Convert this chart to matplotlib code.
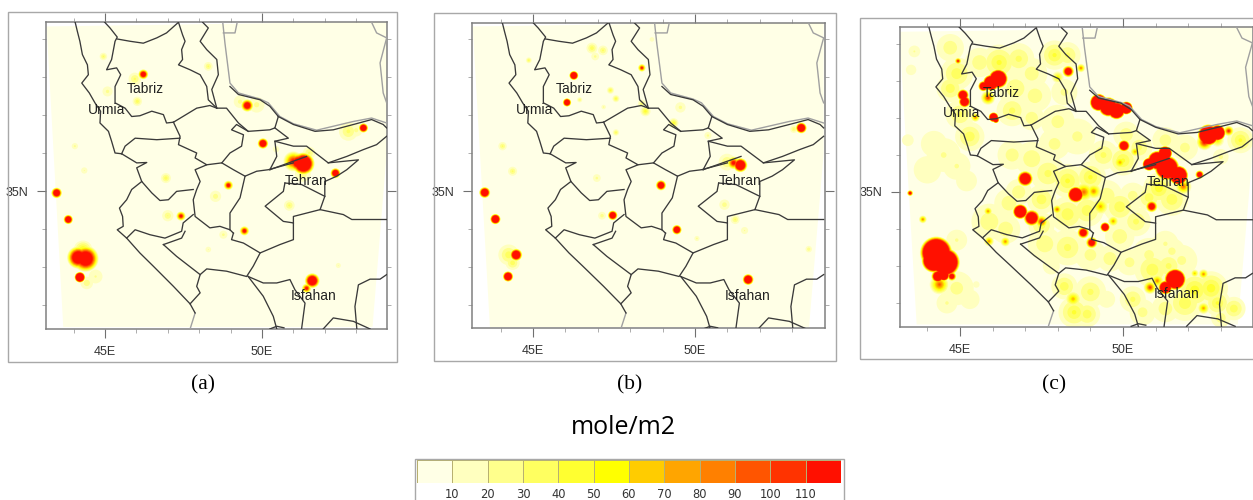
import matplotlib
matplotlib.use("Agg")
import matplotlib.pyplot as plt
from matplotlib.colors import ListedColormap
from matplotlib.patches import Rectangle

W, H = 1253, 500

levels = [10, 20, 30, 40, 50, 60, 70, 80, 90, 100, 110]
band_colors = ["#FFFFE6", "#FFFFBF", "#FFFF8C", "#FFFF60", "#FFFF30", "#FFFF00",
               "#FFCC00", "#FFA500", "#FF8000", "#FF5500", "#FF3300", "#FF1000"]

# lon, lat, peak value, radius in degrees
spots_a = [
    (46.22, 38.07, 190, .16), (45.95, 37.95, 35, .2), (49.53, 37.25, 190, .2), (50.03, 36.25, 240, .17),
    (53.23, 36.66, 260, .15), (52.34, 35.47, 240, .16), (48.93, 35.15, 150, .15), (49.44, 33.95, 150, .15),
    (47.42, 34.34, 140, .15), (43.83, 34.25, 260, .15), (43.46, 34.95, 240, .17), (51.60, 32.64, 240, .24),
    (51.42, 32.44, 140, .15), (44.20, 32.73, 400, .17), (44.38, 33.22, 220, .42), (44.15, 33.25, 220, .36),
    (44.3, 33.45, 60, .3), (51.32, 35.72, 300, .36), (51.0, 35.78, 130, .32), (51.15, 35.75, 200, .3),
    (44.95, 38.54, 35, .12), (48.29, 38.28, 35, .14), (45.08, 37.62, 25, .16), (46.03, 37.36, 40, .15),
    (44.04, 36.18, 25, .1), (44.34, 35.54, 22, .1), (46.94, 35.34, 40, .16), (48.52, 34.86, 28, .18),
    (47.0, 34.35, 32, .18), (50.87, 34.62, 35, .17), (48.77, 33.85, 25, .13), (48.29, 33.46, 22, .09),
    (52.43, 33.04, 22, .08), (52.75, 36.57, 35, .3), (53.0, 36.6, 25, .2), (49.83, 37.27, 25, .25),
    (49.3, 37.35, 25, .2), (44.42, 32.58, 30, .2), (44.7, 32.75, 22, .22), (51.3, 35.45, 30, .25),
    (51.5, 36.0, 35, .2), (50.45, 36.1, 25, .1),
]
spots_b = [
    (46.26, 38.04, 320, .14), (46.05, 37.33, 280, .13), (48.36, 38.24, 130, .12), (53.28, 36.66, 280, .17),
    (51.40, 35.68, 280, .22), (51.19, 35.74, 140, .2), (48.95, 35.15, 240, .16), (49.44, 33.98, 260, .15),
    (47.46, 34.36, 260, .15), (51.64, 32.67, 300, .17), (43.84, 34.26, 320, .16), (43.51, 34.96, 280, .17),
    (44.48, 33.32, 280, .19), (44.23, 32.75, 320, .16),
    (44.87, 38.44, 40, .09), (46.82, 38.76, 40, .17), (47.16, 38.70, 35, .15), (46.92, 38.54, 25, .12),
    (47.39, 37.65, 45, .11), (47.56, 37.43, 45, .11), (46.44, 37.40, 35, .08), (47.18, 37.21, 25, .07),
    (48.47, 37.10, 50, .16), (48.36, 37.30, 35, .12), (49.34, 36.79, 50, .15), (49.55, 37.20, 25, .16),
    (47.56, 36.54, 40, .1), (44.06, 36.18, 35, .13), (44.37, 35.52, 35, .14), (46.97, 35.34, 25, .12),
    (50.91, 34.64, 28, .16), (51.24, 34.25, 35, .14), (51.53, 33.96, 22, .11), (50.06, 33.75, 25, .08),
    (53.51, 33.47, 30, .1), (53.05, 36.63, 35, .12), (50.40, 36.46, 25, .11), (50.99, 35.76, 35, .26),
    (44.25, 33.32, 40, .32), (44.37, 33.11, 40, .22), (47.13, 34.35, 28, .12), (48.67, 38.99, 20, .07),
]
spots_c = [
    # saturated patches
    (46.17, 38.06, 450, .3), (45.95, 37.95, 450, .25), (45.72, 37.86, 300, .16), (45.86, 37.55, 110, .22),
    (45.09, 37.62, 300, .18), (45.14, 37.44, 300, .18), (46.03, 37.02, 400, .15), (46.1, 36.95, 300, .1),
    (45.47, 37.02, 90, .14), (44.94, 38.54, 130, .1), (48.32, 38.26, 220, .18), (48.71, 38.35, 90, .13),
    (48.0, 38.1, 60, .18), (49.25, 37.42, 500, .27), (49.55, 37.3, 500, .3), (49.8, 37.2, 500, .27),
    (50.1, 37.27, 500, .2), (52.62, 36.54, 500, .33), (52.9, 36.6, 500, .25), (52.5, 36.35, 130, .25),
    (53.24, 36.65, 120, .16), (50.03, 36.25, 300, .18), (51.29, 36.05, 500, .22), (51.05, 35.85, 500, .3),
    (50.8, 35.75, 500, .2), (51.35, 35.65, 500, .38), (51.7, 35.45, 500, .3), (51.85, 35.15, 95, .25),
    (52.35, 35.47, 220, .13), (47.0, 35.36, 300, .24), (48.55, 34.93, 400, .25), (48.8, 35.0, 95, .3),
    (49.1, 35.02, 85, .24), (46.85, 34.47, 400, .23), (47.2, 34.3, 300, .25), (47.5, 34.2, 120, .2),
    (49.45, 34.05, 300, .15), (50.88, 34.61, 200, .18), (48.78, 33.90, 220, .18), (49.04, 33.63, 200, .18),
    (44.27, 33.36, 500, .5), (44.55, 33.1, 500, .45), (44.2, 33.15, 500, .38), (44.5, 32.75, 400, .18),
    (44.32, 32.72, 300, .2), (44.75, 32.72, 200, .14), (44.37, 32.5, 100, .3),
    (51.6, 32.64, 500, .33), (51.3, 32.42, 350, .22), (50.83, 32.42, 110, .2), (51.05, 32.6, 85, .2),
    (52.47, 32.78, 85, .15), (52.2, 32.8, 70, .12), (52.47, 31.86, 80, .18), (48.47, 32.11, 75, .24),
    (43.47, 34.97, 170, .09), (43.86, 34.26, 90, .12), (45.86, 34.48, 85, .13), (45.89, 33.67, 85, .15),
    (46.39, 33.66, 85, .15), (47.98, 34.53, 95, .14), (49.31, 34.61, 75, .25), (49.70, 34.21, 80, .16),
    (49.91, 35.80, 75, .2), (50.37, 36.09, 75, .15), (52.9, 36.4, 65, .2),
    # pale mottled cover
    (44.7, 38.9, 30, .42), (44.9, 38.2, 40, .5), (44.7, 37.8, 40, .42), (45.0, 37.1, 35, .45), (45.3, 36.5, 40, .45),
    (45.6, 38.5, 30, .45), (46.2, 38.5, 45, .55), (46.8, 38.6, 35, .48), (47.2, 38.2, 28, .48), (46.7, 37.8, 30, .55),
    (47.3, 37.6, 28, .5), (46.6, 37.2, 35, .48), (47.2, 37.0, 30, .38), (47.9, 38.7, 45, .45), (48.3, 38.7, 35, .4),
    (48.2, 37.7, 24, .4), (48.0, 36.9, 26, .52), (48.6, 36.5, 24, .55), (47.9, 36.3, 26, .48), (49.4, 36.0, 35, .45),
    (50.0, 35.85, 45, .46), (50.5, 36.2, 35, .4), (50.1, 36.55, 30, .4), (46.6, 36.0, 28, .45), (47.2, 35.9, 30, .52),
    (47.7, 35.5, 35, .55), (46.8, 35.0, 30, .4), (45.9, 34.2, 30, .55), (46.5, 34.7, 30, .45), (47.5, 34.8, 40, .45),
    (46.4, 34.0, 30, .45), (47.5, 34.1, 38, .4), (48.3, 35.3, 45, .52), (49.0, 35.4, 45, .48), (48.3, 34.4, 40, .55),
    (48.9, 34.5, 40, .5), (49.5, 34.9, 30, .48), (50.3, 34.9, 26, .4), (49.9, 34.6, 40, .5), (50.4, 34.2, 35, .45),
    (49.9, 33.8, 30, .45), (51.1, 35.1, 50, .48), (51.5, 34.8, 40, .5), (50.8, 34.85, 40, .4), (47.6, 33.6, 30, .52),
    (48.3, 33.5, 35, .55), (49.0, 33.3, 26, .48), (47.8, 33.0, 20, .26), (49.6, 33.2, 30, .4), (50.2, 33.1, 26, .4),
    (50.8, 33.3, 24, .52), (51.3, 33.6, 22, .4), (50.9, 32.9, 40, .55), (51.4, 33.0, 35, .45), (51.8, 33.15, 24, .48),
    (52.2, 32.35, 50, .55), (52.7, 32.4, 50, .52), (52.9, 32.0, 45, .4), (51.9, 32.0, 40, .55), (51.3, 31.85, 30, .42),
    (50.3, 32.1, 35, .4), (50.6, 31.75, 26, .4), (53.4, 31.85, 40, .36), (53.0, 31.6, 30, .3), (48.2, 32.45, 40, .4),
    (48.5, 31.75, 45, .48), (49.0, 32.3, 35, .48), (48.9, 31.7, 40, .4), (49.5, 32.1, 20, .26), (44.0, 35.6, 20, .42),
    (44.5, 36.0, 22, .52), (44.9, 35.7, 22, .42), (44.2, 36.3, 20, .4), (45.2, 35.3, 20, .32), (44.9, 33.7, 22, .32),
    (44.9, 32.4, 26, .52), (45.3, 32.1, 20, .3), (44.6, 32.0, 22, .32), (43.6, 38.8, 22, .18), (43.5, 38.3, 20, .16),
    (43.4, 36.4, 16, .18), (53.6, 36.4, 45, .4), (53.0, 35.95, 24, .24), (51.9, 36.2, 26, .4), (51.3, 36.4, 28, .4),
    (51.5, 33.4, 24, .4), (45.5, 32.5, 16, .1),
]

panel_names = ["(a)", "(b)", "(c)"]
panel_spots = [spots_a, spots_b, spots_c]
# left, right, top, bottom in pixels; then x of 45E/50E and y of lat 35 and 36
axes_px = [(46, 387, 22, 329, 105, 262, 191, 153),
           (472, 825, 23, 328, 533, 695, 191, 153),
           (900, 1253, 27, 327, 960, 1123, 192, 155)]
frames_px = [(8, 397, 12, 362), (434, 836, 13, 361), (860, 1265, 18, 359)]
caption_x = [203, 630, 1054]

domain_lon = [43.14, 53.97, 53.97, 53.52, 43.67]
domain_lat = [39.33, 39.46, 36.0, 31.42, 31.42]

cities = ["Tabriz", "Urmia", "Tehran", "Isfahan"]
city_lon = [46.28, 45.05, 51.39, 51.63]
city_lat = [37.68, 37.14, 35.27, 32.23]

# provinces and the national border, lon then lat
borders = [
    [(44.05, 39.44), (44.12, 39.20), (44.20, 38.94), (44.28, 38.59), (44.44, 38.32), (44.47, 38.06), (44.26, 37.84),
     (44.50, 37.58), (44.68, 37.32), (44.86, 37.10), (44.84, 36.79), (45.11, 36.57), (45.21, 36.31), (45.32, 36.0),
     (45.53, 35.98)],
    [(44.97, 39.46), (45.16, 39.29), (45.39, 39.05), (45.32, 38.94), (45.21, 38.46), (45.05, 38.19), (45.37, 38.24),
     (45.50, 38.06), (45.32, 37.75), (45.32, 37.32), (45.64, 37.18), (45.85, 36.96), (46.11, 36.98), (46.49, 37.10),
     (46.86, 37.01), (46.96, 36.79), (47.18, 36.81)],
    [(45.39, 39.0), (45.80, 38.94), (46.22, 38.89), (46.65, 39.03), (46.96, 39.16), (47.34, 39.44), (47.47, 39.11),
     (47.55, 38.94), (47.44, 38.72), (47.47, 38.46), (47.34, 38.32), (47.71, 38.19), (48.03, 38.06), (48.24, 37.75),
     (48.29, 37.40), (48.56, 37.18), (48.87, 37.18), (49.25, 36.79), (49.56, 36.57), (50.25, 36.61), (50.41, 36.66),
     (50.52, 36.96)],
    [(50.52, 36.96), (51.0, 36.75), (51.69, 36.57), (52.27, 36.61), (52.91, 36.75), (53.49, 36.88), (53.86, 36.75),
     (53.97, 36.66)],
    [(48.11, 39.44), (48.29, 39.29), (48.03, 38.94), (48.24, 38.72), (48.56, 38.46), (48.61, 38.06), (48.40, 37.67),
     (48.56, 37.18)],
    [(48.98, 37.75), (49.25, 37.54), (49.94, 37.40), (50.25, 37.23), (50.52, 36.96)],
    [(47.18, 36.81), (47.92, 37.18), (48.34, 37.25), (48.56, 37.18)],
    [(47.18, 36.81), (47.39, 36.44), (47.34, 36.22), (47.92, 36.0), (47.87, 35.87), (48.24, 35.69), (47.87, 35.56),
     (48.03, 35.25), (47.92, 35.04), (47.81, 34.77), (47.87, 34.33), (48.34, 34.03), (48.66, 34.07), (48.98, 33.98),
     (49.09, 33.89)],
    [(45.53, 35.98), (45.64, 36.18), (45.96, 36.39), (46.65, 36.35), (47.39, 36.39)],
    [(45.53, 35.98), (46.01, 35.74), (46.33, 35.75), (46.01, 35.61), (46.17, 35.25), (46.49, 34.95), (46.75, 34.75),
     (47.02, 34.77), (47.28, 34.99), (47.81, 35.04)],
    [(46.17, 35.25), (45.85, 35.04), (45.69, 34.77), (45.46, 34.55), (45.56, 34.33), (45.58, 34.07), (45.39, 33.98),
     (45.69, 33.76), (45.96, 33.98), (46.43, 33.85), (46.91, 33.76), (47.44, 33.94), (47.49, 34.16), (47.81, 34.38)],
    [(45.69, 33.76), (46.11, 33.37), (46.54, 33.02), (47.18, 32.49), (47.71, 32.03), (47.87, 31.79)],
    [(47.71, 32.03), (48.03, 32.32), (47.92, 32.49), (48.03, 32.80), (48.24, 32.95), (48.87, 32.89), (49.51, 32.75),
     (49.72, 33.02), (49.94, 33.37)],
    [(46.86, 33.59), (47.44, 33.76), (47.55, 33.94)],
    [(46.86, 33.59), (47.28, 33.28), (48.03, 32.80)],
    [(49.09, 33.89), (49.03, 33.72), (49.41, 33.63), (49.94, 33.37), (50.57, 33.59), (51.0, 33.72), (51.0, 34.16),
     (50.68, 34.20), (50.36, 34.42), (50.10, 34.60), (50.68, 34.99), (50.73, 35.21)],
    [(48.98, 33.98), (48.98, 34.42), (49.30, 34.82), (49.46, 35.39), (49.83, 35.52), (50.20, 35.56), (51.0, 35.74)],
    [(49.46, 35.39), (49.09, 35.56), (48.72, 35.74), (48.24, 35.69)],
    [(48.72, 35.74), (48.98, 36.0), (49.35, 36.18), (49.41, 36.48), (49.03, 36.61), (49.19, 36.75), (49.56, 36.57)],
    [(50.25, 35.56), (50.47, 35.91), (50.41, 36.31), (51.0, 36.18), (51.42, 36.18), (52.11, 35.74), (53.07, 35.82),
     (52.70, 35.56), (52.38, 35.39), (52.0, 35.25), (52.0, 34.86), (51.85, 34.51), (51.0, 34.33), (51.0, 34.16)],
    [(50.41, 36.66), (50.84, 36.39), (50.41, 36.31)],
    [(52.11, 35.74), (52.70, 35.91), (53.23, 36.09), (53.65, 36.22), (53.97, 36.44)],
    [(51.85, 34.51), (52.59, 34.38), (52.86, 34.25), (53.97, 34.25)],
    [(50.73, 35.21), (51.26, 35.17), (52.0, 34.86)],
    [(50.25, 35.56), (51.42, 35.91)],
    [(49.56, 32.75), (50.04, 32.23), (50.36, 31.70), (50.47, 31.37)],
    [(49.56, 32.75), (50.04, 32.58), (50.47, 32.58), (50.89, 32.67), (51.05, 32.40), (51.37, 32.05), (51.26, 31.37)],
    [(53.02, 31.37), (52.96, 31.96), (53.07, 32.53), (53.44, 32.68), (53.76, 32.68), (53.97, 32.80)],
    [(51.95, 31.37), (52.27, 31.66), (52.91, 31.57), (53.44, 31.37)],
    [(50.25, 31.37), (50.47, 31.44), (50.7, 31.4)],
]
# sea coast and the border beyond it
shores = [
    [(48.75, 39.44), (48.82, 38.89), (48.98, 37.84), (49.25, 37.58), (49.94, 37.42), (50.20, 37.32), (50.57, 36.96),
     (51.0, 36.77), (51.74, 36.60), (52.91, 36.83), (53.49, 36.92), (53.97, 36.79)],
    [(49.21, 39.44), (49.14, 39.16), (48.77, 39.16)],
    [(53.49, 39.44), (53.65, 39.16), (53.97, 39.03), (53.76, 38.37), (53.86, 37.58), (53.97, 37.32)],
    [(47.87, 31.79), (47.71, 31.37)],
]

plt.rcParams["font.family"] = ["Liberation Sans", "DejaVu Sans"]
fig = plt.figure(figsize=(W / 100, H / 100), dpi=100, facecolor="white")


def add_axes_px(left, right, top, bottom):
    return fig.add_axes([left / W, 1 - bottom / H, (right - left) / W, (bottom - top) / H])


def add_frame(left, right, top, bottom):
    fig.add_artist(Rectangle((left / W, 1 - bottom / H), (right - left) / W, (bottom - top) / H,
                             transform=fig.transFigure, fill=False, edgecolor="#A8A8A8", linewidth=1))


def draw_spots(ax, spots, px_per_deg):
    # stacked discs, one layer per contour level, so neighbouring spots merge
    for lev, color in zip(levels, band_colors[1:]):
        kept = [s for s in spots if s[2] > lev]
        lons = [s[0] for s in kept]
        lats = [s[1] for s in kept]
        radii = [s[3] * (1 - (lev - 10) / (s[2] - 10)) for s in kept]
        sizes = [(2 * r * px_per_deg * 0.72) ** 2 for r in radii]
        ax.scatter(lons, lats, s=sizes, color=color, linewidths=0, zorder=2)


for i, spots in enumerate(panel_spots):
    left, right, top, bottom, x45, x50, y35, y36 = axes_px[i]
    add_frame(*frames_px[i])
    ax = add_axes_px(left, right, top, bottom)
    px_lon = (x50 - x45) / 5
    px_lat = y35 - y36
    ax.set_xlim(45 + (left - x45) / px_lon, 45 + (right - x45) / px_lon)
    ax.set_ylim(35 - (bottom - y35) / px_lat, 35 + (y35 - top) / px_lat)

    ax.fill(domain_lon, domain_lat, color=band_colors[0], linewidth=0, zorder=1)
    draw_spots(ax, spots, px_lon)

    for line in shores:
        ax.plot([p[0] for p in line], [p[1] for p in line], color="#A0A0A0", lw=1.0, zorder=3)
    for line in borders:
        ax.plot([p[0] for p in line], [p[1] for p in line], color="#3A3A3A", lw=0.95, zorder=4)

    for name, lon, lat in zip(cities, city_lon, city_lat):
        ax.text(lon, lat, name, fontsize=10, color="#222222", ha="center", va="center", zorder=5)

    ax.set_xticks([45, 50], ["45E", "50E"])
    ax.set_xticks([44, 46, 47, 48, 49, 51, 52, 53], minor=True)
    ax.set_yticks([35], ["35N"])
    ax.set_yticks([32, 33, 34, 36, 37, 38, 39], minor=True)
    ax.tick_params(which="major", length=6.5, width=0.8, color="#707070", top=True, right=True,
                   labelsize=9, labelcolor="#333333", pad=6)
    ax.tick_params(which="minor", length=3, width=0.6, color="#A0A0A0", top=True, right=True)
    for spine in ax.spines.values():
        spine.set_color("#808080")
        spine.set_linewidth(1.1)

    fig.text(caption_x[i] / W, 1 - 385 / H, panel_names[i], family="Liberation Serif", fontsize=15.5,
             ha="center", va="center", color="black")

fig.text(623 / W, 1 - 427 / H, "mole/m2", family="Open Sans", fontsize=18, ha="center", va="center",
         color="black")

add_frame(415, 844, 459, 510)
cax = add_axes_px(417, 841, 460, 483)
edges = [0] + levels + [120]
cax.pcolormesh(edges, [0, 1], [list(range(12))], cmap=ListedColormap(band_colors), vmin=-0.5, vmax=11.5,
               edgecolors="#B8B070", linewidth=0.7)
cax.set_xlim(0, 120)
cax.set_yticks([])
cax.set_xticks(levels, [str(v) for v in levels], family="DejaVu Sans", fontsize=8.3, color="#333333")
cax.tick_params(axis="x", length=0, pad=3.5)
for spine in cax.spines.values():
    spine.set_visible(False)

fig.savefig("out.png", dpi=100)
plt.close(fig)
